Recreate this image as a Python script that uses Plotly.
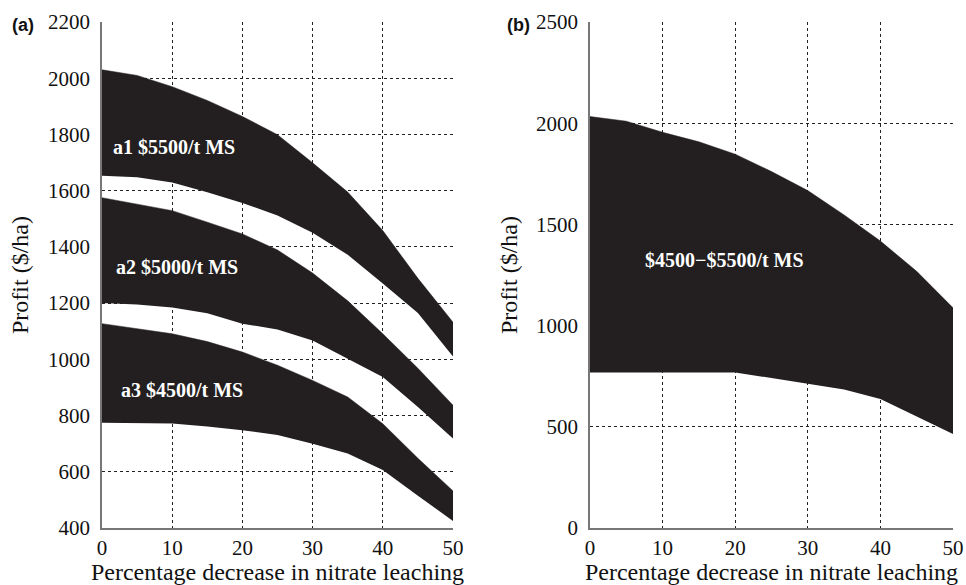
import plotly.graph_objects as go

x_pct = [0, 5, 10, 15, 20, 25, 30, 35, 40, 45, 50]

# Panel (a)
a1_upper = [2030, 2010, 1970, 1921, 1864, 1799, 1699, 1595, 1458, 1288, 1132]
a1_lower = [1653, 1648, 1629, 1594, 1556, 1512, 1450, 1372, 1270, 1165, 1010]
a2_upper = [1575, 1552, 1529, 1488, 1446, 1389, 1307, 1208, 1091, 968, 837]
a2_lower = [1200, 1195, 1184, 1164, 1127, 1106, 1067, 1002, 937, 830, 718]
a3_upper = [1127, 1109, 1091, 1063, 1026, 979, 925, 866, 771, 648, 532]
a3_lower = [774, 774, 772, 761, 748, 731, 700, 665, 606, 515, 425]

# Panel (b)
b_upper = [2033, 2010, 1955, 1908, 1847, 1761, 1667, 1547, 1418, 1268, 1088]
b_lower = [768, 768, 768, 768, 768, 741, 714, 684, 637, 553, 465]

band_labels_a = ["a1 $5500/t MS", "a2 $5000/t MS", "a3 $4500/t MS"]
band_label_pos_a = [(10.3, 1755), (10.7, 1328), (11.4, 890)]
band_label_b = "$4500\u2212$5500/t MS"
band_label_pos_b = (18.5, 1325)

FILL = "#231f20"
SERIF = "Liberation Serif, Times New Roman, serif"

fig = go.Figure()

def band(lower, upper, xa, ya):
    fig.add_trace(go.Scatter(x=x_pct, y=lower, mode="lines", line=dict(width=0, color=FILL),
                             xaxis=xa, yaxis=ya, showlegend=False, hoverinfo="skip"))
    fig.add_trace(go.Scatter(x=x_pct, y=upper, mode="lines", line=dict(width=0.5, color=FILL),
                             fill="tonexty", fillcolor=FILL,
                             xaxis=xa, yaxis=ya, showlegend=False, hoverinfo="skip"))

band(a1_lower, a1_upper, "x", "y")
band(a2_lower, a2_upper, "x", "y")
band(a3_lower, a3_upper, "x", "y")
band(b_lower, b_upper, "x2", "y2")

axis_common = dict(
    showgrid=True, gridcolor="#222", griddash="dot", gridwidth=1,
    showline=True, linecolor="#777", linewidth=1.5, mirror=False,
    zeroline=False, ticks="", tickfont=dict(family=SERIF, size=21, color="#111"),
    automargin=False,
)
title_font = dict(family=SERIF, size=24, color="#111")

fig.update_layout(
    width=966, height=585,
    margin=dict(l=0, r=0, t=22, b=57),
    paper_bgcolor="white", plot_bgcolor="white",
    xaxis=dict(domain=[102/966, 453/966], range=[0, 50], dtick=10, anchor="y",
               title=dict(text="Percentage decrease in nitrate leaching", font=title_font, standoff=0),
               ticklabelstandoff=0, **axis_common),
    yaxis=dict(domain=[0, 1], range=[400, 2200], dtick=200, anchor="x",
               title=dict(text="Profit ($/ha)", font=title_font, standoff=13),
               ticklabelstandoff=6, **axis_common),
    xaxis2=dict(domain=[590/966, 953/966], range=[0, 50], dtick=10, anchor="y2",
                title=dict(text="Percentage decrease in nitrate leaching", font=title_font, standoff=0),
                ticklabelstandoff=0, **axis_common),
    yaxis2=dict(domain=[0, 1], range=[0, 2500], dtick=500, anchor="x2",
                title=dict(text="Profit ($/ha)", font=title_font, standoff=12),
                ticklabelstandoff=6, **axis_common),
)

for txt, (lx, ly) in zip(band_labels_a, band_label_pos_a):
    fig.add_annotation(x=lx, y=ly, xref="x", yref="y", text="<b>" + txt + "</b>", showarrow=False,
                       font=dict(family=SERIF, size=20, color="white"))
fig.add_annotation(x=band_label_pos_b[0], y=band_label_pos_b[1], xref="x2", yref="y2",
                   text="<b>" + band_label_b + "</b>", showarrow=False,
                   font=dict(family=SERIF, size=20, color="white"))

fig.add_annotation(x=10/966, y=1, xref="paper", yref="paper", xanchor="left", yanchor="middle",
                   text="<b>(a)</b>", showarrow=False, yshift=-3,
                   font=dict(family="Liberation Sans, Arial, sans-serif", size=18, color="#111"))
fig.add_annotation(x=505/966, y=1, xref="paper", yref="paper", xanchor="left", yanchor="middle",
                   text="<b>(b)</b>", showarrow=False, yshift=-3,
                   font=dict(family="Liberation Sans, Arial, sans-serif", size=18, color="#111"))

fig.write_html("out.html", config={"displayModeBar": False},
               post_script="document.body.style.margin='0px';document.body.style.overflow='hidden';")
